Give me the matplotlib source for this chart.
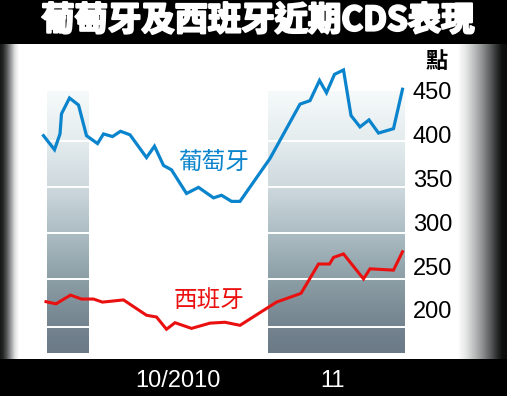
import numpy as np
import matplotlib
matplotlib.use('Agg')
import matplotlib.pyplot as plt
from matplotlib import transforms
import matplotlib.patheffects as pe

title = "葡萄牙及西班牙近期CDS表現"
unit_label = "點"
pt_name = "葡萄牙"
es_name = "西班牙"

# x: calendar-day offset from 1 Oct 2010
pt_days = [-11.4, -9.2, -8.1, -7.8, -6.2, -4.4, -2.8, -0.6, 0.6, 2.4,
           4.0, 5.9, 9.2, 10.8, 12.6, 14.2, 17.2, 19.6, 22.6, 24.2,
           26.2, 27.9, 33.9, 39.9, 41.9, 43.8, 45.2, 46.8, 48.6, 50.1,
           51.9, 53.7, 55.6, 58.6, 60.4]
pt_cds = [399, 383, 401, 424, 442, 434, 399, 390, 401, 398,
          404, 400, 374, 387, 365, 360, 333, 340, 328, 331,
          324, 324, 373, 435, 439, 462, 448, 469, 474, 422,
          409, 417, 402, 407, 452]

es_days = [-10.9, -8.9, -6.0, -3.8, -1.4, 0.4, 4.6, 9.2, 11.2, 13.2,
           14.9, 18.2, 21.9, 24.9, 27.9, 35.2, 37.9, 40.1, 43.6, 45.8,
           46.6, 48.6, 52.6, 53.9, 58.6, 60.4]
es_cds = [209.5, 207, 217, 212.5, 212.5, 209, 211.5, 194, 192, 178,
          185.5, 179, 185, 186, 182.5, 209, 214.5, 219, 252.5, 252.5,
          260, 264, 235.5, 247, 245.5, 266.5]

shade_start = [-10.8, 33.5]
shade_end = [-2.4, 60.9]
shade_low, shade_high = 151, 449
band_lines = [393, 340, 288, 235, 181]

y_ticks = [200, 250, 300, 350, 400, 450]
x_tick_pos = [15.5, 46.5]
x_tick_labels = ["10/2010", "11"]

W, H = 507, 396
fig = plt.figure(figsize=(W / 100, H / 100), dpi=100, facecolor='black')

# ---- background frame (black bands + metallic edges) ----
bg = fig.add_axes([0, 0, 1, 1])
bg.set_axis_off()
cols = np.arange(W) + 0.5
prof = np.interp(cols, [0, 3, 7, 11, 15, 19, 458, 466, 474, 482, 490, 497, 502, 507],
                 [0.08, 0.15, 0.35, 0.62, 0.88, 1.0, 1.0, 0.9, 0.75, 0.58, 0.38, 0.18, 0.06, 0.05])
img = np.zeros((H, W, 3))
rows = np.arange(H) + 0.5
panel = (rows > 44) & (rows < 359)
for c, tint in enumerate([0.97, 0.99, 1.0]):
    img[panel, :, c] = np.clip(prof * tint + (1 - tint) * prof ** 2, 0, 1)
bg.imshow(img, extent=(0, W, H, 0), aspect='auto', interpolation='bilinear')
bg.set_xlim(0, W)
bg.set_ylim(H, 0)

# ---- data axes ----
ax = fig.add_axes([15 / W, 38 / H, 395 / W, 314 / H])
ax.set_facecolor('none')
xlim = (-17.1, 61.9)
ylim = (145.2, 503.65)

vals = np.linspace(shade_high, shade_low, 300)
stops_v = [449, 393, 340, 288, 235, 181, 151]
stops_c = np.array([(246, 250, 250), (228, 236, 238), (206, 217, 222),
                    (172, 189, 195), (140, 158, 166), (116, 131, 143),
                    (108, 122, 136)]) / 255
grad = np.stack([np.interp(vals, stops_v[::-1], stops_c[::-1, k]) for k in range(3)], axis=-1)
grad = grad[:, None, :]
for x0, x1 in zip(shade_start, shade_end):
    ax.imshow(grad, extent=(x0, x1, shade_low, shade_high), aspect='auto',
              interpolation='bilinear', origin='upper', zorder=1)
    ax.hlines(band_lines, x0, x1, colors='white', linewidth=1.4, zorder=2)

ax.plot(pt_days, pt_cds, color='#0a84cc', linewidth=2.3, solid_joinstyle='miter', zorder=3)
ax.plot(es_days, es_cds, color='#ea1010', linewidth=2.2, solid_joinstyle='miter', zorder=3)

ax.set_xlim(*xlim)
ax.set_ylim(*ylim)
for s in ax.spines.values():
    s.set_visible(False)
ax.set_xticks([])
ax.yaxis.tick_right()
ax.set_yticks(y_ticks)
ax.set_yticklabels([str(v) for v in y_ticks], fontsize=17, family='Liberation Sans', color='black')
ax.tick_params(axis='y', length=0, pad=2.0)

cjk = ['Noto Sans CJK TC', 'DejaVu Sans']
ax.text(22.7, 368.4, pt_name, color='#0a84cc', fontsize=17, family=cjk, ha='center', va='center')
ax.text(21.7, 210.5, es_name, color='#ea1010', fontsize=17, family=cjk, ha='center', va='center')

trans = transforms.blended_transform_factory(ax.transData, fig.transFigure)
for p, lab in zip(x_tick_pos, x_tick_labels):
    fig.text(p, (H - 380.7) / H, lab, transform=trans, color='white', fontsize=17,
             family='Liberation Sans', ha='center', va='center')

fig.text(437 / W, (H - 61) / H, unit_label, color='black', fontsize=16, family=cjk,
         fontweight='bold', ha='center', va='center')
fig.text(258 / W, (H - 21) / H, title, color='white', fontsize=24, family=cjk,
         fontweight='bold', ha='center', va='center',
         path_effects=[pe.withStroke(linewidth=1.6, foreground='white')])

fig.savefig('out.png', dpi=100, facecolor='black')
